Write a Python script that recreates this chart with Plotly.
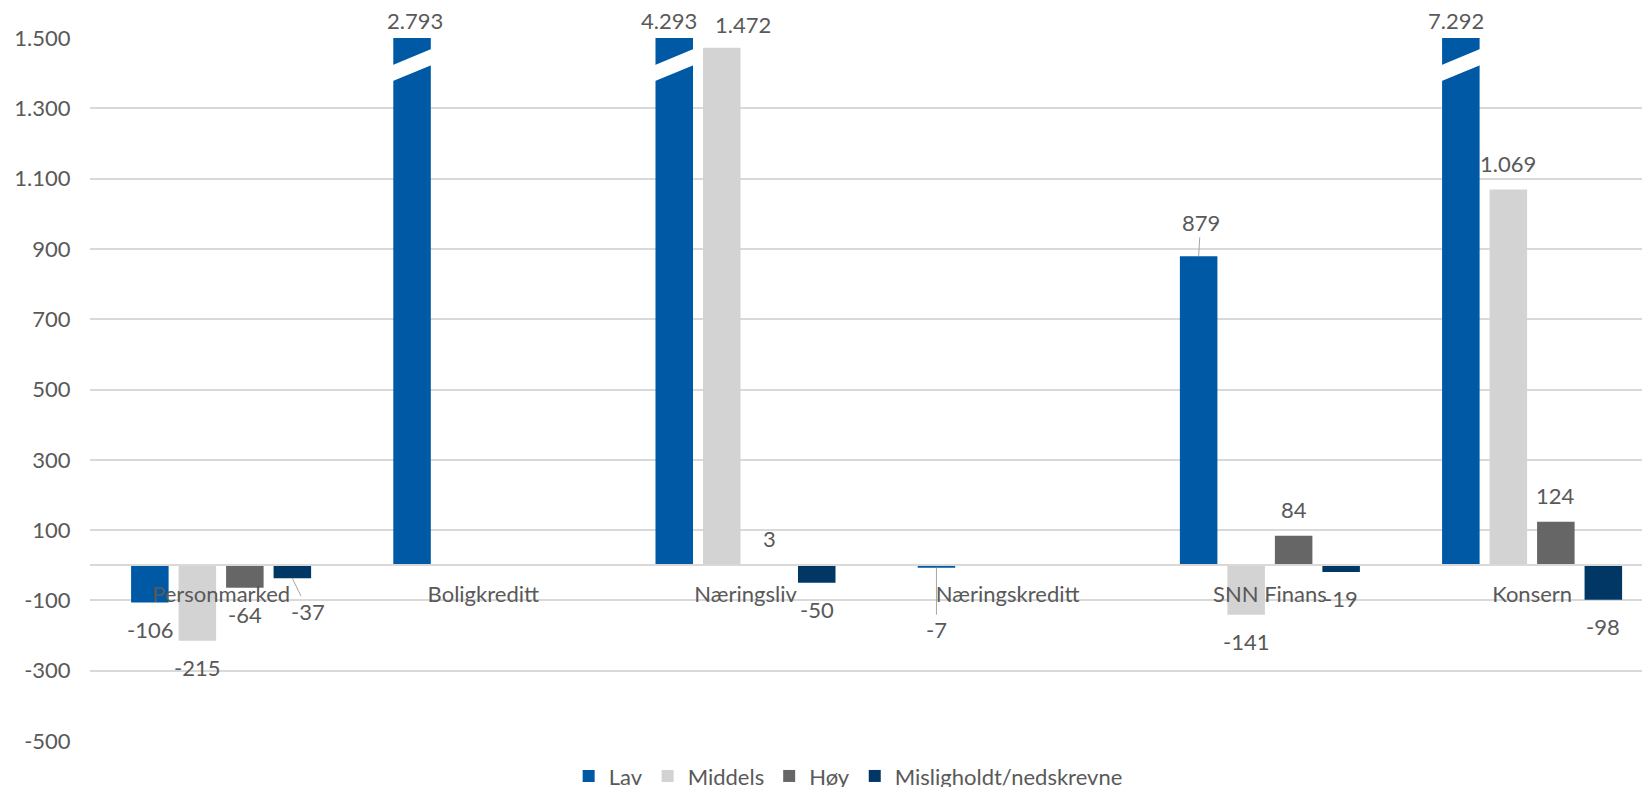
import plotly.graph_objects as go

# ---------------- data ----------------
categories = ["Personmarked", "Boligkreditt", "Næringsliv", "Næringskreditt", "SNN Finans", "Konsern"]
series_names = ["Lav", "Middels", "Høy", "Misligholdt/nedskrevne"]
lav = [-106, 2793, 4293, -7, 879, 7292]
middels = [-215, None, 1472, None, -141, 1069]
hoy = [-64, None, 3, None, 84, 124]
misl = [-37, None, -50, None, -19, -98]
y_tick_vals = [-500, -300, -100, 100, 300, 500, 700, 900, 1100, 1300, 1500]
y_tick_text = ["-500", "-300", "-100", "100", "300", "500", "700", "900", "1.100", "1.300", "1.500"]

# ---------------- style ----------------
colors = ["#0059A4", "#D3D3D3", "#666666", "#003764"]
FONT = "Lato"
FS = 22
TXT = "#595959"
GRID = "#D9D9D9"
Y_MIN, Y_MAX = -500, 1500
BARGAP = 0.2754
BARGROUPGAP = 0.21
X_RANGE = [-0.5, 5.4497]
# the page body adds an 8px offset; the figure is sized so the chart lands on the 1650x787 view
FIG_W, FIG_H = 1642, 779

all_series = [lav, middels, hoy, misl]
n_series = len(all_series)
group_w = 1 - BARGAP
slot = group_w / n_series
bar_w = slot * (1 - BARGROUPGAP)


def fmt(v):
    return f"{v:,}".replace(",", ".")


def offset(i):
    return -group_w / 2 + slot * (i + 0.5)


fig = go.Figure()
xs = list(range(len(categories)))
for i, (name, vals) in enumerate(zip(series_names, all_series)):
    shown = [None if v is None else min(v, Y_MAX) for v in vals]
    fig.add_trace(go.Bar(
        x=xs, y=shown, name=name,
        marker=dict(color=colors[i], line=dict(width=0)),
        hoverinfo="skip",
    ))

# label placement tweaks (pixel offsets), keyed by (series, category)
leader = {(3, 0): (16, 33), (0, 3): (0, 62), (0, 4): (2, -34)}
shift = {(0, 1): (3, 17.7), (0, 2): (-5, 17.7), (0, 5): (-5, 17.7), (1, 2): (21, 23.4)}

annotations = []
shapes = []
for i, vals in enumerate(all_series):
    for j, v in enumerate(vals):
        if v is None:
            continue
        xc = j + offset(i)
        yv = min(v, Y_MAX)
        font = dict(family=FONT, size=FS, color=TXT)
        if (i, j) in leader:
            ax, ay = leader[(i, j)]
            annotations.append(dict(
                x=xc, y=yv, xref="x", yref="y", text=fmt(v), showarrow=True,
                ax=ax, ay=ay, arrowhead=0, arrowwidth=1, arrowcolor="#A6A6A6",
                standoff=0, startstandoff=0, font=font))
        else:
            if (i, j) in shift:
                dx, dy = shift[(i, j)]
            else:
                dx, dy = 0, (26 if v >= 0 else -27)
            annotations.append(dict(
                x=xc, y=yv, xref="x", yref="y", text=fmt(v), showarrow=False,
                xshift=dx, yshift=dy, font=font))
        if v > Y_MAX:
            # white break band across clipped bar
            ext = 0.02
            x0 = xc - bar_w / 2 - ext
            x1 = xc + bar_w / 2 + ext
            slope = 45 / bar_w
            lb = 1378 - slope * ext
            rb = 1422 + slope * ext
            th = 46
            path = f"M {x0} {lb} L {x1} {rb} L {x1} {rb + th} L {x0} {lb + th} Z"
            shapes.append(dict(type="path", path=path, xref="x", yref="y",
                               fillcolor="white", line=dict(width=0), layer="above"))

fig.update_layout(
    width=FIG_W, height=FIG_H,
    paper_bgcolor="white", plot_bgcolor="white",
    barmode="group", bargap=BARGAP, bargroupgap=BARGROUPGAP,
    margin=dict(l=82, r=0, t=30, b=46, autoexpand=False),
    font=dict(family=FONT, size=FS, color=TXT),
    annotations=annotations, shapes=shapes,
    showlegend=True,
    legend=dict(orientation="h", xanchor="center", x=0.486, yanchor="middle", y=-0.050,
                font=dict(family=FONT, size=FS, color=TXT), bgcolor="rgba(0,0,0,0)",
                traceorder="normal"),
)
fig.update_xaxes(
    type="linear", range=X_RANGE, tickvals=xs, ticktext=categories,
    anchor="free", position=(0 - Y_MIN) / (Y_MAX - Y_MIN),
    showline=True, linecolor=GRID, linewidth=1.5,
    showgrid=False, zeroline=False,
    ticks="outside", ticklen=10, tickcolor="rgba(0,0,0,0)",
    tickfont=dict(family=FONT, size=FS, color=TXT),
)
fig.update_yaxes(
    range=[Y_MIN, Y_MAX], tickvals=y_tick_vals, ticktext=y_tick_text,
    showgrid=True, gridcolor=GRID, gridwidth=1.5, zeroline=False, showline=False,
    ticks="outside", ticklen=14, tickcolor="rgba(0,0,0,0)",
    tickfont=dict(family=FONT, size=FS, color=TXT),
)

fig.write_html("out.html")
